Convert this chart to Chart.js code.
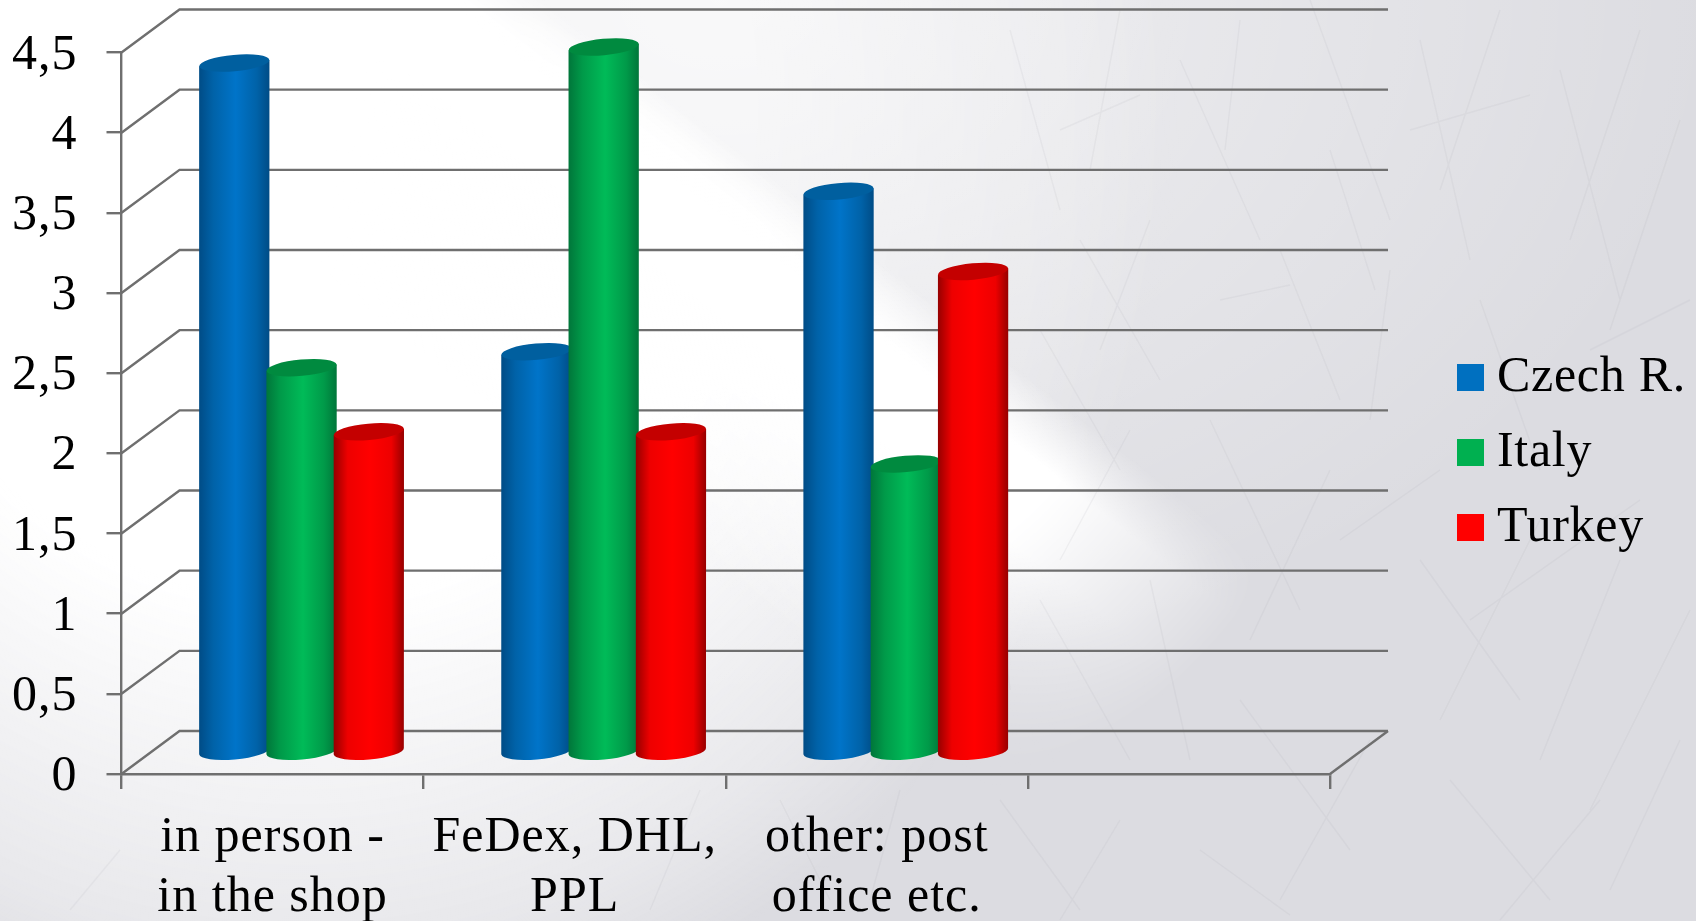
<!DOCTYPE html>
<html>
<head>
<meta charset="utf-8">
<title>Delivery</title>
<script src="https://cdn.jsdelivr.net/npm/chart.js@4/dist/chart.umd.min.js"></script>
<style>
  html, body { margin: 0; height: 100%; overflow: hidden; }
  body {
    position: relative;
    width: 1696px;
    height: 921px;
    background:
      radial-gradient(ellipse 1000px 700px at 720px 0, rgba(255,255,255,.62), rgba(255,255,255,0) 100%),
      #dcdce1;
  }
  /* soft white area top left, cut along the diagonal */
  body::before {
    content: "";
    position: absolute;
    inset: 0;
    background: radial-gradient(ellipse 880px 960px at 300px 100px, #fff 52%, rgba(255,255,255,.35) 88%, rgba(255,255,255,0) 100%);
    -webkit-mask-image: linear-gradient(38deg, #000 57%, rgba(0,0,0,.5) 60%);
    mask-image: linear-gradient(38deg, #000 57%, rgba(0,0,0,.5) 60%);
  }
  /* the narrow light beam */
  #beam {
    position: absolute;
    inset: 0;
    background: linear-gradient(38deg, rgba(255,255,255,0) 40%, #fff 52%, #fff 56.5%, rgba(255,255,255,0) 60%);
    -webkit-mask-image: radial-gradient(circle 520px at 830px 300px, #000 55%, transparent 100%);
    mask-image: radial-gradient(circle 520px at 830px 300px, #000 55%, transparent 100%);
  }
  #scratches { position: absolute; left: 0; top: 0; }
  canvas { position: absolute; left: 0; top: 0; display: block; z-index: 1; }
  #legend {
    position: absolute;
    left: 1457px;
    top: 337px;
    margin: 0;
    padding: 0;
    z-index: 1;
    list-style: none;
    font: 50px/75px "Liberation Serif", serif;
    letter-spacing: .7px;
    color: #000;
    white-space: nowrap;
  }
  #legend i {
    display: inline-block;
    width: 27px;
    height: 27px;
    margin-right: 13px;
  }
</style>
</head>
<body>
<div id="beam"></div>
<svg id="scratches" width="1696" height="921">
  <path fill="none" stroke="#9a9aa4" stroke-opacity=".1" stroke-width="1.4" d="
    M1010 30L1060 210 M1120 10L1090 170 M1180 60L1260 240 M1240 20L1225 150 M1310 0L1390 220
    M1420 40L1470 260 M1500 10L1440 190 M1560 70L1620 300 M1640 30L1570 240 M1680 120L1610 330
    M1080 240L1160 380 M1150 220L1100 350 M1280 250L1340 400 M1390 270L1370 420 M1480 300L1540 470
    M1590 350L1690 300 M1410 130L1530 95 M1220 300L1290 285 M1040 330L1120 470 M1130 430L1060 560
    M1210 420L1300 610 M1330 470L1250 640 M1420 560L1520 700 M1540 520L1440 720 M1620 560L1540 760
    M1690 610L1590 810 M1040 600L1130 760 M1150 580L1190 760 M1240 700L1350 850 M1370 740L1280 900
    M1450 780L1550 900 M1600 800L1500 920 M1680 740L1610 890 M1000 800L1080 910 M1120 820L1060 920
    M1200 850L1290 915 M780 800L830 900 M700 790L650 910 M900 790L870 900 M990 520L1010 690
    M1060 130L1140 95 M1330 150L1375 290 M1470 620L1640 500 M1340 540L1440 470 M120 850L70 910
  "/>
</svg>
<canvas id="chart" width="1696" height="921"></canvas>
<ul id="legend"></ul>
<script>
const categories = [
  ["in person -", "in the shop"],
  ["FeDex, DHL,", "PPL"],
  ["other: post", "office etc."],
  "",
];
const seriesNames = ["Czech R.", "Italy", "Turkey"];
const czech = [4.3, 2.5, 3.5];
const italy = [2.4, 4.4, 1.8];
const turkey = [2, 2, 3];
const yMax = 4.5;
const yStep = 0.5;

const fontFamily = '"Liberation Serif", serif';
const lineColor = "#6f6f6f";

// fake 3d: the back wall sits this far behind the front axes
const wallDx = 58;
const wallDy = -43;

const cylinderShades = [
  { edge: "#004c86", mid: "#0062a8", light: "#0074c9", top: "#005f9f" },
  { edge: "#00763a", mid: "#009a49", light: "#00bb58", top: "#008a3f" },
  { edge: "#960000", mid: "#ee0000", light: "#ff0000", top: "#c40000" },
];

const drawWall = (chart) => {
  const { ctx, scales } = chart;
  const left = scales.x.left;
  const right = scales.x.right;
  ctx.save();
  ctx.strokeStyle = lineColor;
  ctx.lineWidth = 2.4;
  scales.y.ticks.forEach((tick) => {
    const y = scales.y.getPixelForValue(tick.value);
    ctx.beginPath();
    ctx.moveTo(left, y);
    ctx.lineTo(left + wallDx, y + wallDy);
    ctx.lineTo(right + wallDx, y + wallDy);
    ctx.stroke();
  });
  const zero = scales.y.getPixelForValue(0);
  ctx.beginPath();
  ctx.moveTo(right, zero);
  ctx.lineTo(right + wallDx, zero + wallDy);
  ctx.stroke();
  ctx.restore();
};

const drawCylinder = (ctx, bar, shade) => {
  const rx = (bar.width / 2) * 1.045;
  const ry = 8.2;
  const rot = (-5.2 * Math.PI) / 180;
  const cx = bar.x + wallDx / 2;
  const top = bar.y + wallDy / 2;
  const bottom = bar.base + wallDy / 2;
  const tilt = rx * Math.sin(rot);

  const grad = ctx.createLinearGradient(cx - rx, 0, cx + rx, 0);
  grad.addColorStop(0, shade.edge);
  grad.addColorStop(0.2, shade.mid);
  grad.addColorStop(0.52, shade.light);
  grad.addColorStop(0.82, shade.mid);
  grad.addColorStop(1, shade.edge);

  ctx.beginPath();
  ctx.moveTo(cx - rx, top - tilt);
  ctx.lineTo(cx - rx, bottom - tilt);
  ctx.ellipse(cx, bottom, rx, ry, rot, Math.PI, 0, true);
  ctx.lineTo(cx + rx, top + tilt);
  ctx.closePath();
  ctx.fillStyle = grad;
  ctx.fill();

  ctx.beginPath();
  ctx.ellipse(cx, top, rx, ry, rot, 0, Math.PI * 2);
  ctx.fillStyle = shade.top;
  ctx.fill();
};

const cylinderPlugin = {
  id: "cylinders",
  beforeDatasetsDraw(chart) {
    drawWall(chart);
    // first series at the back, like the original
    chart.data.datasets.forEach((ds, i) => {
      chart.getDatasetMeta(i).data.forEach((bar) => {
        if (Number.isFinite(bar.y)) drawCylinder(chart.ctx, bar, cylinderShades[i]);
      });
    });
  },
  beforeDatasetDraw() {
    return false; // the flat bars are replaced by the cylinders above
  },
};

// Palatino in the original runs wider than Liberation Serif
const spacingPlugin = {
  id: "spacing",
  beforeLayout(chart) {
    chart.ctx.letterSpacing = "1px";
  },
  beforeDraw(chart) {
    chart.ctx.letterSpacing = "1px";
  },
};

const chart = new Chart(document.getElementById("chart"), {
  type: "bar",
  data: {
    labels: categories,
    datasets: [
      { label: seriesNames[0], data: czech, backgroundColor: "#0070c0" },
      { label: seriesNames[1], data: italy, backgroundColor: "#00b050" },
      { label: seriesNames[2], data: turkey, backgroundColor: "#ff0000" },
    ],
  },
  options: {
    responsive: false,
    animation: false,
    categoryPercentage: 0.668,
    barPercentage: 1,
    layout: { padding: { left: 0, top: 52.5, right: 366, bottom: 0 } },
    plugins: {
      title: { display: false },
      tooltip: { enabled: false },
      legend: { display: false },
    },
    scales: {
      x: {
        afterFit: (scale) => { scale.height = 147; },
        border: { color: lineColor, width: 2.4 },
        grid: { drawOnChartArea: false, color: lineColor, lineWidth: 2.4, tickLength: 15 },
        ticks: {
          autoSkip: false,
          maxRotation: 0,
          padding: 19,
          color: "#000",
          font: { family: fontFamily, size: 50, lineHeight: 1.2 },
        },
      },
      y: {
        min: 0,
        max: yMax,
        afterFit: (scale) => {
          scale.width = 121.5;
          scale.paddingTop = 0;
          scale.paddingBottom = 0;
        },
        border: { color: lineColor, width: 2.4 },
        grid: { drawOnChartArea: false, color: lineColor, lineWidth: 2.4, tickLength: 15 },
        ticks: {
          stepSize: yStep,
          padding: 29,
          labelOffset: 3,
          color: "#000",
          font: { family: fontFamily, size: 50 },
          callback: (v) => String(v).replace(".", ","),
        },
      },
    },
  },
  plugins: [spacingPlugin, cylinderPlugin],
});

// html legend, the gap to the swatch is tighter than the built-in one allows
const legendList = document.getElementById("legend");
chart.data.datasets.forEach((ds) => {
  const row = document.createElement("li");
  const swatch = document.createElement("i");
  swatch.style.background = ds.backgroundColor;
  row.append(swatch, ds.label);
  legendList.append(row);
});
</script>
</body>
</html>
